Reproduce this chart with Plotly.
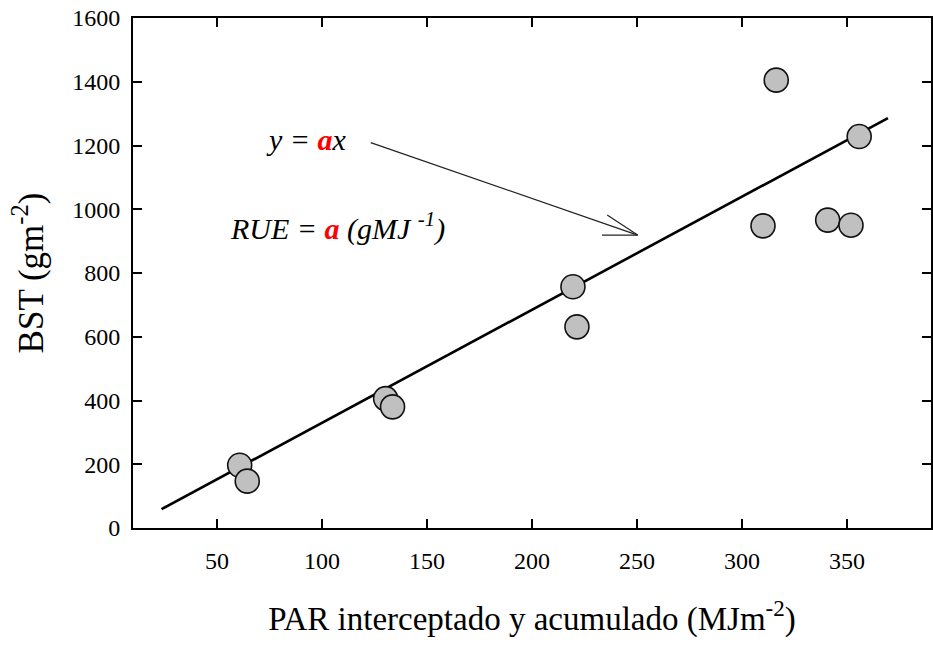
import plotly.graph_objects as go

# Intercepted, accumulated PAR (MJ m-2) and total dry biomass BST (g m-2)
par_x = [60.8, 64.4, 130.3, 133.6, 219.5, 221.4, 310.0, 316.3, 340.8, 351.9, 355.8]
bst_y = [197, 147, 406, 380, 757, 631, 948, 1405, 966, 950, 1228]

# Fitted line endpoints
fit_x = [23.6, 369.5]
fit_y = [59, 1286]

x_ticks = [50, 100, 150, 200, 250, 300, 350]
y_ticks = [0, 200, 400, 600, 800, 1000, 1200, 1400, 1600]

FONT = "Liberation Serif"

fig = go.Figure()

fig.add_trace(go.Scatter(
    x=fit_x, y=fit_y, mode="lines",
    line=dict(color="black", width=2.6),
    showlegend=False, hoverinfo="skip",
))

fig.add_trace(go.Scatter(
    x=par_x, y=bst_y, mode="markers",
    marker=dict(size=24, color="#c0c0c0", line=dict(color="#111111", width=1.6)),
    showlegend=False,
))

# Pointer from the equation to the fitted line (open arrowhead)
arrow_tip = (250.3, 919)
for x0, y0 in [(123.2, 1209), (235.8, 982), (233.3, 919)]:
    fig.add_shape(type="line", xref="x", yref="y",
                  x0=x0, y0=y0, x1=arrow_tip[0], y1=arrow_tip[1],
                  line=dict(color="#222222", width=1.2))

red_a = "<b><span style='color:#ff0000'>a</span></b>"
fig.add_annotation(x=92.7, y=1218, xref="x", yref="y", showarrow=False,
                   text=f"<i>y = {red_a}x</i>",
                   font=dict(family=FONT, size=30, color="black"))
fig.add_annotation(x=107.4, y=947, xref="x", yref="y", showarrow=False,
                   text=f"<i>RUE = {red_a} (gMJ <sup>-1</sup>)</i>",
                   font=dict(family=FONT, size=30, color="black"))

axis_common = dict(
    showline=True, linecolor="black", linewidth=1.8, mirror="ticks",
    ticks="inside", ticklen=9, tickwidth=1.6, tickcolor="black",
    showgrid=False, zeroline=False,
    tickfont=dict(family=FONT, size=24, color="black"),
)

fig.update_xaxes(
    range=[10, 390], tickvals=x_ticks, ticktext=[str(v) for v in x_ticks],
    title=dict(text="PAR interceptado y acumulado (MJm<sup>-2</sup>)",
               font=dict(family=FONT, size=33, color="black"), standoff=34),
    ticklabelstandoff=10,
    **axis_common,
)
fig.update_yaxes(
    range=[0, 1600], tickvals=y_ticks, ticktext=[str(v) for v in y_ticks],
    title=dict(text="BST (gm<sup>-2</sup>)",
               font=dict(family=FONT, size=35, color="black"), standoff=18),
    ticklabelstandoff=6,
    **axis_common,
)

fig.update_layout(
    width=933, height=646,
    margin=dict(l=133, r=0, t=18, b=118),
    plot_bgcolor="white", paper_bgcolor="white",
    font=dict(family=FONT, color="black"),
)

fig.write_html("out.html")
